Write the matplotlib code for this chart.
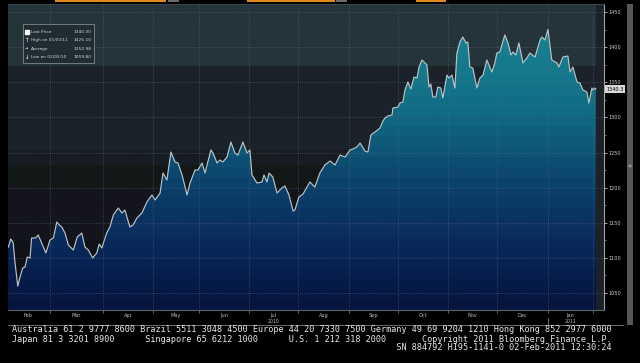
import numpy as np
import matplotlib
matplotlib.use("Agg")
import matplotlib.pyplot as plt
from matplotlib.colors import LinearSegmentedColormap
from matplotlib.patches import Rectangle

# ---------------- data (trading-session index, price) ----------------
session = [
    0.2, 1.2, 2.3, 3.1, 4.3, 5.3, 6.5, 7.5, 8.5, 9.7,
    10.4, 12.2, 13.3, 14.8, 16.7, 18.5, 20.0, 21.5, 22.6, 23.7,
    25.1, 26.6, 28.8, 30.5, 32.5, 33.9, 35.4, 37.3, 39.1, 40.2,
    41.3, 43.5, 44.9, 46.4, 48.6, 50.2, 51.5, 53.7, 55.1, 56.8,
    59.0, 61.2, 63.4, 64.8, 67.0, 68.3, 70.0, 71.8, 73.6, 74.9,
    76.7, 78.9, 80.2, 82.4, 83.7, 85.5, 86.8, 89.4, 90.3, 92.1,
    93.4, 94.7, 96.5, 98.2, 100.0, 101.3, 103.5, 105.3, 106.6, 107.5,
    109.7, 111.9, 112.8, 114.1, 115.0, 116.7, 118.5, 120.7, 122.0, 123.8,
    125.6, 126.4, 128.2, 130.0, 133.0, 135.2, 137.4, 139.6, 141.9, 144.1,
    146.3, 148.5, 150.7, 152.0, 153.7, 155.1, 157.3, 158.6, 159.9, 161.7,
    163.9, 165.2, 166.1, 167.4, 169.2, 169.6, 171.8, 172.7, 174.0, 174.9,
    176.2, 177.5, 178.9, 180.2, 181.1, 182.4, 183.7, 184.6, 185.5, 186.3,
    187.2, 188.5, 189.4, 190.7, 191.6, 193.4, 194.3, 195.6, 196.9, 197.8,
    199.1, 200.4, 201.8, 202.6, 203.5, 204.8, 206.6, 207.9, 209.3, 211.0,
    213.2, 214.5, 215.4, 216.7, 218.9, 220.3, 221.6, 222.5, 223.8, 225.1,
    226.9, 228.6, 230.0, 232.2, 234.4, 235.2, 236.6, 237.9, 239.6, 241.9,
    242.7, 244.5, 246.7, 247.6, 248.9, 250.7, 252.0, 253.3, 255.1, 255.9,
    257.3, 257.7, 258.6, 259.0,
]
price = [
    1115.5, 1126.9, 1121.2, 1092.7, 1059.8, 1072.8, 1085.6, 1087.0, 1101.2, 1099.8,
    1128.3, 1128.3, 1132.6, 1121.2, 1106.9, 1125.4, 1128.3, 1151.1, 1146.8, 1143.9,
    1135.4, 1118.3, 1111.2, 1129.7, 1135.4, 1115.5, 1111.2, 1099.8, 1106.9, 1119.7,
    1114.1, 1135.4, 1143.9, 1161.0, 1171.0, 1163.9, 1168.1, 1143.9, 1146.8, 1156.8,
    1163.9, 1179.5, 1189.5, 1182.4, 1192.3, 1220.8, 1210.9, 1250.7, 1236.5, 1235.1,
    1218.0, 1189.5, 1206.6, 1225.1, 1225.1, 1235.1, 1220.8, 1253.6, 1249.3, 1235.1,
    1239.3, 1236.5, 1243.6, 1264.9, 1249.3, 1246.4, 1264.9, 1249.3, 1253.6, 1218.0,
    1206.6, 1208.0, 1218.0, 1208.0, 1220.8, 1215.1, 1192.3, 1199.5, 1202.3, 1189.5,
    1166.7, 1168.1, 1186.7, 1190.9, 1208.0, 1200.9, 1220.8, 1232.2, 1237.9, 1232.2,
    1246.4, 1243.6, 1253.6, 1255.0, 1257.8, 1263.5, 1252.1, 1250.7, 1274.9, 1279.2,
    1284.9, 1294.8, 1299.1, 1302.0, 1303.4, 1313.3, 1314.8, 1320.5, 1321.9, 1339.0,
    1350.4, 1340.4, 1357.5, 1356.0, 1371.7, 1381.7, 1377.4, 1374.6, 1343.2, 1347.5,
    1329.0, 1329.0, 1343.2, 1341.8, 1327.6, 1360.3, 1356.0, 1360.3, 1341.8, 1391.6,
    1407.3, 1414.4, 1405.9, 1407.3, 1371.7, 1370.3, 1341.8, 1356.0, 1360.3, 1381.7,
    1364.6, 1377.4, 1391.6, 1393.1, 1417.3, 1405.9, 1388.8, 1393.1, 1388.8, 1405.9,
    1377.4, 1384.5, 1391.6, 1385.9, 1410.1, 1414.4, 1410.1, 1425.1, 1381.7, 1377.4,
    1371.7, 1385.9, 1387.4, 1364.6, 1371.7, 1350.4, 1348.9, 1339.0, 1336.1, 1320.5,
    1341.8, 1339.0, 1341.8, 1340.3,
]
month_starts = [18.5, 41.9, 63.9, 84.1, 106.2, 127.8, 150.2, 171.8, 193.8, 215.4, 237.9, 257.7]
month_names = ["Feb", "Mar", "Apr", "May", "Jun", "Jul", "Aug", "Sep", "Oct", "Nov", "Dec", "Jan"]
year_labels = [("2010", "Jul"), ("2011", "Jan")]
y_major = [1050, 1100, 1150, 1200, 1250, 1300, 1350, 1400, 1450]
y_minor = [1075, 1125, 1175, 1225, 1275, 1325, 1375, 1425]

legend_rows = [("Last Price", "1340.30"), ("High on 01/03/11", "1425.10"),
               ("Average", "1252.98"), ("Low on 02/05/10", "1059.80")]
last_label = "1340.3"

footer_lines = [
    "Australia 61 2 9777 8600 Brazil 5511 3048 4500 Europe 44 20 7330 7500 Germany 49 69 9204 1210 Hong Kong 852 2977 6000",
    "Japan 81 3 3201 8900      Singapore 65 6212 1000      U.S. 1 212 318 2000       Copyright 2011 Bloomberg Finance L.P.",
    " " * 75 + "SN 884792 H195-1141-0 02-Feb-2011 12:30:24",
]

# ---------------- figure ----------------
W, H = 640, 363
fig = plt.figure(figsize=(6.4, 3.63), dpi=100, facecolor="black")
ax = fig.add_axes([8 / W, (H - 310) / H, 596 / W, 306 / H])
ax.set_facecolor("#13141c")

XMAX = 262.6
YMIN, YMAX = 1025.8, 1461.4
ax.set_xlim(0, XMAX)
ax.set_ylim(YMIN, YMAX)

# background bands
bg_bands = [(1373, YMAX, "#25333b"), (1253, 1373, "#1b222a"), (1232, 1253, "#171c23"),
            (1201, 1232, "#121817"), (1125, 1201, "#13141c"), (YMIN, 1125, "#101217")]
for lo, hi, c in bg_bands:
    ax.axhspan(lo, hi, color=c, lw=0, zorder=0)
ax.axvspan(session[-1], XMAX, color="#1c2127", lw=0, zorder=0.5)

# gradient fill under curve
cmap = LinearSegmentedColormap.from_list("bbg", [
    (0.00, "#05153f"), (0.08, "#071b49"), (0.17, "#082656"), (0.26, "#0a3161"),
    (0.40, "#0b426b"), (0.51, "#0e5777"), (0.63, "#116a83"), (0.72, "#14758a"),
    (0.86, "#17808f"), (1.00, "#1a8795")])
nb = 30
levels = (np.floor(np.linspace(0, 1, 400) * nb) / nb).reshape(-1, 1)
poly = ax.fill_between(session, price, YMIN, facecolor="none", edgecolor="none")
img = ax.imshow(levels, cmap=cmap, aspect="auto", origin="lower",
                extent=[0, XMAX, YMIN, YMAX], zorder=1.5, interpolation="nearest")
img.set_clip_path(poly.get_paths()[0], transform=ax.transData)

ax.plot(session, price, color="#b9c3c7", lw=0.85, zorder=3)

# axes / ticks
ax.set_axisbelow(False)
ax.spines["left"].set_visible(False)
ax.spines["right"].set_color("#9ba2a6")
ax.spines["right"].set_linewidth(0.8)
ax.spines["bottom"].set_color("#5d6366")
ax.spines["bottom"].set_linewidth(0.8)
ax.spines["top"].set_color("#3a454c")
ax.spines["top"].set_linewidth(0.8)

ax.yaxis.tick_right()
ax.set_yticks(y_major)
ax.set_yticks(y_minor, minor=True)
ax.set_yticklabels([str(v) for v in y_major])
ax.tick_params(axis="y", which="major", length=2.5, width=0.6, color="#c0c0c0",
               labelsize=3.6, labelcolor="#cfcfcf", pad=1)
ax.tick_params(axis="y", which="minor", length=1.5, width=0.5, color="#9a9a9a")

bounds = [-0.5] + month_starts
mids = [(a + b) / 2 for a, b in zip(bounds[:-1], bounds[1:])]
ax.set_xticks(mids)
ax.set_xticklabels(month_names)
ax.set_xticks(month_starts, minor=True)
ax.tick_params(axis="x", which="major", length=0, labelsize=3.6, labelcolor="#bdbdbd", pad=2)
ax.tick_params(axis="x", which="minor", length=2, width=0.6, color="#7a7a7a")

ax.grid(True, axis="x", which="minor", color="#5b656d", lw=0.5, linestyle=(0, (1, 2)))
ax.grid(True, axis="y", which="major", color="#5b656d", lw=0.5, linestyle=(0, (1, 2)))
ax.grid(False, axis="x", which="major")

# year labels and separator
xt = ax.get_xaxis_transform()
for yr, mname in year_labels:
    ax.text(mids[month_names.index(mname)], -0.036, yr, transform=xt, fontsize=3.3,
            color="#bdbdbd", ha="center", va="center", clip_on=False)
ax.plot([month_starts[-2]] * 2, [-0.025, -0.045], transform=xt, color="#9a9a9a",
        lw=0.5, clip_on=False)

# last price tag
ax.text(1.004, price[-1], last_label, transform=ax.get_yaxis_transform(), fontsize=3.6,
        color="black", ha="left", va="center", zorder=10, clip_on=False,
        bbox=dict(facecolor="#d8d8d8", edgecolor="none", pad=0.8))

# legend box
lx0, ly0, lw_, lh_ = 15 / 596, 1 - 59 / 306, 71 / 596, 39 / 306
ax.add_patch(Rectangle((lx0, ly0), lw_, lh_, transform=ax.transAxes, facecolor="#202b32",
                       edgecolor="#7f878c", lw=0.6, zorder=5))
row_y = [1 - 28.3 / 306, 1 - 36.3 / 306, 1 - 44.7 / 306, 1 - 53 / 306]
mark_x = 19 / 596
for (lab, val), yy in zip(legend_rows, row_y):
    ax.text(23 / 596, yy, lab, transform=ax.transAxes, fontsize=3.1, color="#d5d5d5",
            ha="left", va="center", zorder=6)
    ax.text(83.5 / 596, yy, val, transform=ax.transAxes, fontsize=3.2, color="#d5d5d5",
            ha="right", va="center", zorder=6)
ax.plot([mark_x], [row_y[0]], marker="s", ms=3.2, color="white", transform=ax.transAxes,
        zorder=6, clip_on=False)
ax.text(mark_x, row_y[1], "\u2191", transform=ax.transAxes, fontsize=4, color="white",
        ha="center", va="center", zorder=6)
ax.text(mark_x, row_y[2], "-\u2022", transform=ax.transAxes, fontsize=3.5, color="white",
        ha="center", va="center", zorder=6)
ax.text(mark_x, row_y[3], "\u2193", transform=ax.transAxes, fontsize=4, color="white",
        ha="center", va="center", zorder=6)

# ---------------- frame decorations ----------------
def frect(x0, y0, x1, y1, color):
    fig.patches.append(Rectangle((x0 / W, (H - y1) / H), (x1 - x0) / W, (y1 - y0) / H,
                                 transform=fig.transFigure, facecolor=color, edgecolor="none"))

for x0, x1 in [(55, 166), (247, 335), (416, 446)]:
    frect(x0, 0, x1, 1.8, "#e08a1c")
for x0, x1 in [(168, 179), (336, 347)]:
    frect(x0, 0, x1, 1.8, "#6a6a6a")
frect(627, 4, 633, 325, "#575757")
fig.text(630 / W, (H - 166) / H, "\u00ab", fontsize=5, color="#dddddd", ha="center", va="center")
fig.add_artist(plt.Line2D([8 / W, 623 / W], [(H - 325) / H] * 2, color="#7d7d7d", lw=0.6))

for yy, line in zip([330, 339, 347.5], footer_lines):
    fig.text(12 / W, (H - yy) / H, line, fontsize=6.1, family="DejaVu Sans Mono",
             color="#e8e8e8", ha="left", va="center")

fig.savefig("out.png", dpi=100, facecolor="black")
